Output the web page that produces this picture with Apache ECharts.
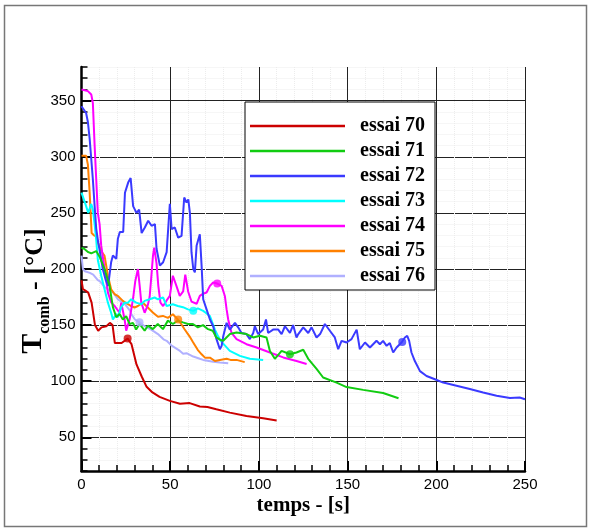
<!DOCTYPE html>
<html>
<head>
<meta charset="utf-8">
<script src="https://cdn.jsdelivr.net/npm/echarts@6/dist/echarts.min.js"></script>
<style>html,body{margin:0;padding:0;background:#fff}#c{width:591px;height:529px}</style>
</head>
<body>
<div id="c"></div>
<script>
var seriesNames = ['essai 70','essai 71','essai 72','essai 73','essai 74','essai 75','essai 76'];
var seriesColors = ['#cc0000','#11cc11','#3a3aff','#00ffff','#ff00ff','#ff8000','#b0b0ff'];
var xTicks = [0,50,100,150,200,250];
var yTicks = [50,100,150,200,250,300,350];

var essai70 = [[0,190],[0.8,182],[2,181],[3.8,179],[5.7,170],[7.6,150],[9.4,145],[11.3,148],[14,149],[16,152],[17.5,150],[18.8,134],[22.6,134],[26,138],[28.2,133],[31,115],[34,104],[36.7,95],[40,90],[44,86],[49.8,82.5],[55.5,80],[61,80.5],[66.7,77.5],[71,77],[76,75],[83.6,72],[93,69],[102.4,67],[110,65]];
var essai71 = [[0,219],[1.5,218],[3.8,215],[5.5,214],[8.3,216],[10.2,211],[13,200],[15.8,185],[17.7,166],[19.6,157],[21.5,160],[23.3,155],[25.2,158],[27.1,151],[29,152],[30.8,146],[32.7,151],[35.6,145],[37.4,149.5],[40.2,146.4],[43,151],[45.9,146.4],[48.7,154],[51.5,151],[54.3,154],[57.2,152.4],[60,151],[62.8,151],[65.6,148],[68.5,150],[71.3,146.4],[74,145],[76,139],[78,137],[79.9,136],[83.6,142],[87.4,143.4],[93,142],[96.8,139],[100.6,140.5],[104.3,139],[106.2,127],[109,120],[112.8,127],[117.5,124],[121.2,125.6],[125,128],[127.8,120],[132.5,111],[136.2,103.3],[143.8,98.8],[149.4,94.8],[158.8,92.3],[170,89.5],[178.7,84.8]];
var essai72 = [[0,345],[0.8,343.5],[2.6,339],[3.6,331],[4.6,316],[5.5,298],[6.4,280],[7.4,256],[8.3,236],[9.4,224],[10.4,215],[12,200],[13.5,191],[15,185],[16.7,206],[17.7,212],[19.6,209],[20.5,227],[21.6,233],[23.5,233],[24.5,268],[26.3,277],[27.7,281],[29.1,256],[31,250],[32.5,253],[33.9,232],[35.7,237],[37.6,243],[39.5,238.5],[41.4,240],[42.3,218],[44.2,203],[46,206],[48,215],[49.8,258],[50.8,235.5],[52.6,237],[54.5,228],[56.4,229.5],[57.9,263.7],[59.2,259.3],[60.2,262],[61.1,250],[62,215],[63,200],[63.9,197],[64.9,221],[66.7,231],[67.7,203],[68.6,173],[70.5,164],[72.4,155],[74.2,149],[76.1,137.5],[78,128.5],[79,131.5],[79.9,140],[81.8,152],[83.6,146],[86.5,152],[88.3,148],[90.2,143],[93,142],[94.9,137.5],[96.8,143],[97.7,149],[99.6,142],[102.4,146],[104,155],[105.2,143],[108,146],[110.9,146],[112.8,142],[114.7,149],[117.5,143],[119.3,150],[121.2,139],[122.2,142],[125,148],[127.8,143],[129.7,148],[132.5,139],[134.5,142],[137.2,151],[140,145],[142.8,139],[144.7,128.5],[146.6,136],[149.4,134.5],[152.2,137.5],[155.1,146],[156.9,128.5],[159.8,134.5],[162.6,130],[166.3,136],[168.2,133],[170,136],[172,131.5],[173.8,134],[175.7,125.6],[177.6,130],[180.4,134.5],[182.3,139],[183.6,140.4],[184.7,136],[186,125.6],[187.9,118],[190.8,109],[194.5,104.7],[199.2,101.8],[203.9,98.8],[211.4,96],[218.9,93],[226.4,90],[234,87],[241.5,85],[247,85.5],[250,84]];
var essai73 = [[0,268],[0.8,267],[2.6,256],[3.8,250],[5.5,258],[6.4,253],[7.4,240],[8.3,226],[9.2,208],[11.1,194],[13,182],[14.9,170],[16.7,161],[17.7,155],[19.6,160],[20.5,157],[22.4,166],[24.3,170],[26.2,170],[28,173],[30.8,170],[33.7,168.6],[35.6,171.6],[38.4,173],[41.2,174.6],[43.1,173],[46,174.6],[48,167],[51.5,168.6],[54.3,167],[57.2,166],[60,164],[63,162.7],[65.6,165],[68.6,162.7],[70,161],[72.4,158],[75.2,146],[77,140],[79,135],[83.6,127],[89.3,122.6],[94.9,120],[102.4,119]];
var essai74 = [[0,360],[0.8,360],[3.6,358.5],[5.5,355.5],[6.4,348],[7.4,310],[8.3,280],[9.2,250],[10.2,240],[11.1,221],[13,200],[14.9,179],[16.8,170],[18.7,167],[21.5,161],[22.4,170],[24.3,155],[25.2,145],[27.1,155],[29,173],[30.3,189],[31.8,200],[32.8,185],[33.7,170],[35.6,161],[37.4,168],[38.4,175],[39.3,192],[40.3,212],[41,219],[42.3,205],[43.3,185],[44.5,170],[46,167],[48,172],[49.8,176],[51.5,194],[53.5,185],[55.4,176],[57.3,180],[58.5,195],[60.1,180],[62,171],[64.9,169],[66.7,176],[68.6,178],[70.5,179],[72.4,185],[74.2,188],[76.5,187],[79,185],[80.8,176],[81.8,164],[82.7,155],[83.6,149],[84.6,143],[87.4,137.5],[93,133],[98.7,130],[106.2,125.6],[113.7,121.2],[121.2,118],[126.9,115.3]];
var essai75 = [[0,301],[0.8,301],[2.6,301],[3.6,293],[4.6,268],[5.1,252],[5.7,232],[7,230],[8.3,229],[9.4,223],[11.1,216],[13,211.7],[14.9,194],[16.7,182],[18.7,177.5],[20.5,176],[23.3,171.6],[26.2,168.6],[28,167],[29.9,165.7],[31.8,167],[34.6,170],[37.4,165.7],[40.2,161.2],[43.1,157.5],[45.9,158.2],[48.7,156.5],[51.5,159.7],[54.3,155],[56.2,151],[58.1,146.3],[60.9,140],[62.8,135],[65.5,128],[67.7,124],[69.6,121],[72.4,121],[75.2,118],[78,119],[81.8,120],[84,119],[87.4,119],[92,117]];
var essai76 = [[0,212],[0.8,200],[1.9,198],[4.7,196.5],[6.6,195],[9.2,190],[10.4,189],[13,184],[14.1,184],[16.7,180],[17.9,179],[20.5,173],[21.6,172],[24.4,169],[27.3,163],[28,160],[30.1,155],[32.7,152.5],[35.6,149],[39.3,146],[43.1,142],[46.5,137],[48,136],[50.6,132],[51.7,130.5],[55.5,127],[57.3,124.5],[59.2,125],[63,122],[66.7,120],[68.6,119],[74.2,117.3],[78,116.7],[82.7,116]];
var markerPoints = [[26,138],[117.5,124],[180.8,135],[63,162.7],[76.5,187],[54.5,155],[32.7,152.5]];

var allData = [essai70, essai71, essai72, essai73, essai74, essai75, essai76];
var drawOrder = [6,5,4,3,2,1,0];

var series = [];
drawOrder.forEach(function (i) {
  series.push({
    type: 'line', name: seriesNames[i], data: allData[i],
    xAxisIndex: 0, yAxisIndex: 0,
    symbol: 'none', showSymbol: false, color: seriesColors[i],
    lineStyle: {width: 2, color: seriesColors[i]},
    animation: false, z: 3
  });
});
drawOrder.forEach(function (i) {
  series.push({
    type: 'scatter', name: 'm' + i, data: [markerPoints[i]],
    xAxisIndex: 0, yAxisIndex: 0,
    symbol: 'circle', symbolSize: 8,
    itemStyle: {color: seriesColors[i]},
    animation: false, z: 4
  });
});

var chart = echarts.init(document.getElementById('c'), null, {renderer: 'canvas'});
chart.setOption({
  animation: false,
  backgroundColor: '#fff',
  grid: {left: 81.5, right: 66, top: 67, bottom: 58, containLabel: false, outerBoundsMode: 'none'},
  graphic: [{
    type: 'rect', silent: true, z: -10,
    shape: {x: 4.5, y: 5.5, width: 582, height: 521},
    style: {fill: 'transparent', stroke: '#777', lineWidth: 1.5}
  }],
  legend: {
    data: seriesNames,
    icon: 'rect',
    orient: 'vertical', left: 245, top: 102,
    padding: [14, 10, 4, 5],
    itemWidth: 95, itemHeight: 2.5, itemGap: 5,
    backgroundColor: '#fff', borderColor: '#000', borderWidth: 1,
    textStyle: {fontFamily: 'Liberation Serif', fontWeight: 'bold', fontSize: 20, color: '#000', lineHeight: 20, padding: [0, 0, 0, 10]},
    selectedMode: false
  },
  xAxis: {
    type: 'value', min: xTicks[0], max: xTicks[xTicks.length - 1], interval: 50,
    axisLine: {show: true, onZero: false, lineStyle: {color: '#000', width: 2.5}},
    axisTick: {show: true, inside: true, length: 10, lineStyle: {color: '#000', width: 2}},
    minorTick: {show: true, splitNumber: 5, length: 6, lineStyle: {color: '#000', width: 1.5}},
    splitLine: {show: true, lineStyle: {color: '#222', width: 1}},
    minorSplitLine: {show: true, lineStyle: {color: '#ececec', width: 1, type: 'dotted'}},
    axisLabel: {fontFamily: 'Liberation Sans', fontSize: 15, color: '#000', margin: 6},
    name: 'temps - [s]', nameLocation: 'middle', nameGap: 24, nameMoveOverlap: false,
    nameTextStyle: {fontFamily: 'Liberation Serif', fontWeight: 'bold', fontSize: 21, color: '#000'}
  },
  yAxis: [{
    type: 'value', min: 20, max: 380, interval: 10, position: 'left',
    axisLine: {show: true, onZero: false, lineStyle: {color: '#000', width: 2.5}},
    axisTick: {show: true, inside: true, length: 6, lineStyle: {color: '#000', width: 1.5}},
    axisLabel: {show: false},
    splitLine: {show: true, lineStyle: {color: '#ececec', width: 1, type: 'dotted'}}
  }, {
    type: 'value', min: 20, max: 380, position: 'left',
    axisLine: {show: false},
    axisTick: {show: true, inside: true, length: 10, customValues: yTicks, lineStyle: {color: '#000', width: 2}},
    axisLabel: {customValues: yTicks, fontFamily: 'Liberation Sans', fontSize: 15, color: '#000', margin: 6},
    splitLine: {show: true, lineStyle: {color: '#222', width: 1}},
    name: '{t|T}{s|comb}{r| - [°C]}{g| }', nameLocation: 'middle', nameRotate: 90, nameGap: 33, nameMoveOverlap: false,
    nameTextStyle: {
      color: '#000',
      rich: {
        t: {fontFamily: 'Liberation Serif', fontWeight: 'bold', fontSize: 30, color: '#000', lineHeight: 32, verticalAlign: 'bottom'},
        s: {fontFamily: 'Liberation Serif', fontWeight: 'bold', fontSize: 16, color: '#000', lineHeight: 32, verticalAlign: 'bottom', padding: [0, 0, -4, 0]},
        r: {fontFamily: 'Liberation Serif', fontWeight: 'bold', fontSize: 26, color: '#000', lineHeight: 32, verticalAlign: 'bottom'},
        g: {fontSize: 10, width: 44, lineHeight: 32}
      }
    }
  }],
  series: series
});
</script>
</body>
</html>
